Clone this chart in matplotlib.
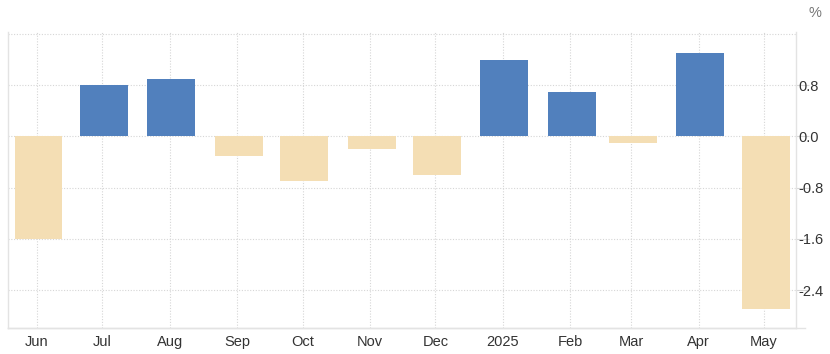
import datetime as dt

import matplotlib
matplotlib.use("Agg")
import matplotlib.pyplot as plt
import matplotlib.dates as mdates
from matplotlib.lines import Line2D

# monthly change, %
months = ["2024-06", "2024-07", "2024-08", "2024-09", "2024-10", "2024-11",
          "2024-12", "2025-01", "2025-02", "2025-03", "2025-04", "2025-05"]
values = [-1.6, 0.8, 0.9, -0.3, -0.7, -0.2, -0.6, 1.2, 0.7, -0.1, 1.3, -2.7]
tick_labels = ["Jun", "Jul", "Aug", "Sep", "Oct", "Nov", "Dec", "2025",
               "Feb", "Mar", "Apr", "May"]
y_ticks = [-2.4, -1.6, -0.8, 0.0, 0.8]

POS = "#5180bd"
NEG = "#f4deb4"
GRID = "#d6d6d6"
SPINE = "#e3e3e3"
TEXT = "#333333"

plt.rcParams["font.family"] = ["Liberation Sans", "DejaVu Sans"]

dates = [dt.datetime.strptime(m, "%Y-%m") for m in months]
x = mdates.date2num(dates)

fig = plt.figure(figsize=(8.3, 3.54), dpi=100)
ax = fig.add_axes([0.0096, 0.0734, 0.9494, 0.8362])

colors = [POS if v >= 0 else NEG for v in values]
ax.bar(x + 0.7, values, width=22, color=colors, zorder=3)

ax.set_xlim(mdates.date2num(dt.datetime(2024, 5, 18, 16)),
            mdates.date2num(dt.datetime(2025, 5, 15, 16)))
ax.set_ylim(-2.99, 1.63)

ax.set_xticks(x)
ax.set_xticklabels(tick_labels)
ax.set_yticks(y_ticks)
ax.set_yticklabels([f"{t:.1f}" for t in y_ticks])
ax.yaxis.tick_right()

ax.grid(True, color=GRID, linestyle=(0, (1, 1.5)), linewidth=0.8, zorder=0)
ax.axhline(1.6, color=GRID, linestyle=(0, (1, 1.5)), linewidth=0.8, zorder=0)

ax.tick_params(axis="x", length=0, pad=5, labelsize=10.5, labelcolor=TEXT)
ax.tick_params(axis="y", length=9, width=0.8, color=GRID, pad=-7,
               labelsize=10.5, labelcolor=TEXT)

ax.spines["top"].set_visible(False)
for side in ["left", "right", "bottom"]:
    ax.spines[side].set_color(SPINE)
    ax.spines[side].set_linewidth(1.0)

# bottom axis line runs a bit past the right spine
ax.add_line(Line2D([0, 1.012], [0, 0], transform=ax.transAxes, color=SPINE,
                   linewidth=1.0, clip_on=False))

fig.text(0.982, 0.962, "%", ha="center", va="center", fontsize=10.5, color="#777777")

fig.savefig("out.png", dpi=100)
